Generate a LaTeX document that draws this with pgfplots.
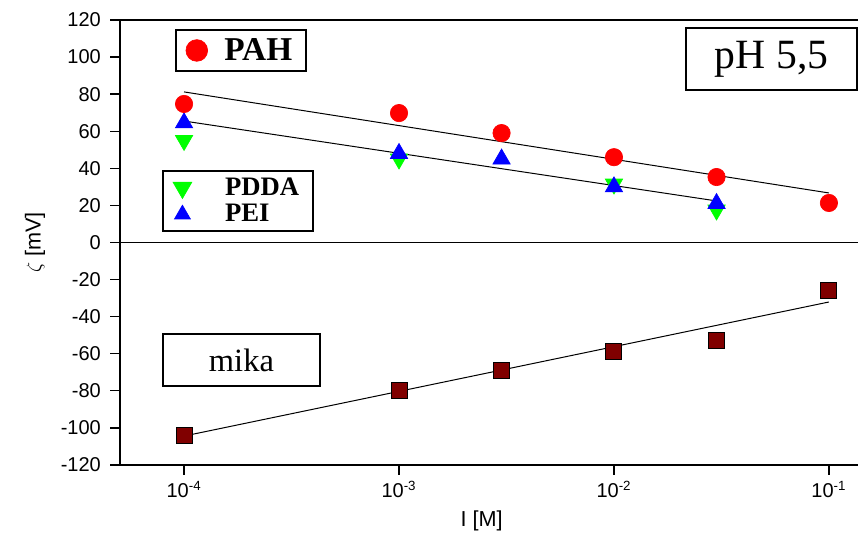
\documentclass[border=0pt]{standalone}
\usepackage{pgfplots}
\pgfplotsset{compat=1.18}
\usepackage{fontspec}
\setmainfont{Liberation Sans}
\newfontfamily\serif{Liberation Serif}
\definecolor{pahred}{RGB}{255,0,0}
\definecolor{pddagreen}{RGB}{0,255,0}
\definecolor{peiblue}{RGB}{0,0,255}
\definecolor{mikared}{RGB}{128,0,0}
\begin{document}
\begin{tikzpicture}
\begin{axis}[
  name=ax,
  scale only axis, width=442.8pt, height=267pt,
  xmode=log, xmin=5.035e-5, xmax=0.1365,
  ymin=-120, ymax=120,
  axis x line*=box, axis y line*=left,
  x axis line style={-}, y axis line style={-},
  axis line style={line width=0.8pt},
  xtick={1e-4,1e-3,1e-2,1e-1},
  xticklabels={10\textsuperscript{-4},10\textsuperscript{-3},10\textsuperscript{-2},10\textsuperscript{-1}},
  xminorticks=false,
  ytick={-120,-100,...,120},
  yticklabels={-120,-100,-80,-60,-40,-20,0,20,40,60,80,100,120},
  xtick pos=bottom, ytick pos=left,
  tick align=outside, major tick length=6pt,
  tick style={line width=0.8pt, black},
  tick label style={font=\fontsize{12}{14}\selectfont},
  yticklabel style={xshift=-2pt},
  extra y ticks={0}, extra y tick labels={},
  extra y tick style={grid=major, major grid style={black, line width=0.8pt}},
  xlabel={I [M]}, ylabel={$\zeta$ [mV]},
  label style={font=\fontsize{13}{15}\selectfont},
  xlabel style={at={(rel axis cs:0.49,-0.126)}, anchor=center},
  ylabel style={at={(rel axis cs:-0.115,0.5)}, anchor=center},
  clip=false,
  legend style={at={(rel axis cs:0.0745,0.98)}, anchor=north west, draw=black, line width=1.2pt,
    font=\serif\bfseries\fontsize{20}{23}\selectfont, inner xsep=6pt, inner ysep=3pt,
    /tikz/every odd column/.append style={column sep=8pt}},
  legend image post style={line width=0.4pt},
]
% fit lines
\addplot[black, line width=0.6pt, forget plot] coordinates {(1e-4,81.2) (0.1,26.7)};
\addplot[black, line width=0.6pt, forget plot] coordinates {(1e-4,65.5) (0.03,22.4)};
\addplot[black, line width=0.6pt, forget plot] coordinates {(1e-4,-104.4) (0.1,-32.1)};
% PDDA
\addplot[only marks, mark=triangle*, mark size=6pt, color=pddagreen, mark options={rotate=180}, forget plot]
  coordinates {(1e-4,55) (1e-3,45) (1e-2,31.5) (0.03,17.5)};
% PEI
\addplot[only marks, mark=triangle*, mark size=6pt, color=peiblue, forget plot]
  coordinates {(1e-4,64.5) (1e-3,48) (0.003,45) (1e-2,30) (0.03,21)};
% mika
\addplot[only marks, mark=square*, mark size=4.8pt, draw=black, fill=mikared, mark options={line width=0.6pt}, forget plot]
  coordinates {(1e-4,-104) (1e-3,-79.6) (0.003,-68.8) (1e-2,-59) (0.03,-52.6) (0.1,-26)};
% PAH
\addplot[only marks, mark=*, mark size=5.2pt, color=pahred, forget plot]
  coordinates {(1e-4,74.7) (1e-3,69.8) (0.003,59) (1e-2,46) (0.03,35.3) (0.1,21.3)};
\addlegendimage{only marks, mark=*, mark size=6.5pt, color=pahred}
\addlegendentry{PAH}
\node[draw, line width=1.2pt, minimum width=102.6pt, minimum height=37.2pt,
  font=\serif\fontsize{25}{29}\selectfont] at (rel axis cs:0.883,0.912) {pH 5,5};
\node[draw, line width=1pt, minimum width=94.2pt, minimum height=31.2pt,
  font=\serif\fontsize{19.5}{23}\selectfont] at (rel axis cs:0.1646,0.236) {mika};
\coordinate (BL) at (rel axis cs:-0.1626,-0.1663);
\coordinate (TR) at (rel axis cs:1,1.0449);
\end{axis}
\begin{axis}[
  scale only axis, width=442.8pt, height=267pt,
  xmode=log, xmin=5.035e-5, xmax=0.1365,
  ymin=-120, ymax=120, hide axis,
  legend style={at={(rel axis cs:0.057,0.663)}, anchor=north west, draw=black, line width=1.2pt,
    font=\serif\bfseries\fontsize{16}{18}\selectfont, inner xsep=6pt, inner ysep=2pt,
    row sep=0pt,
    /tikz/every odd column/.append style={column sep=18pt}},
  legend cell align=left,
  legend image post style={line width=0.4pt},
]
\addlegendimage{only marks, mark=triangle*, mark size=6.5pt, color=pddagreen, mark options={rotate=180}}
\addlegendentry{PDDA}
\addlegendimage{only marks, mark=triangle*, mark size=5.5pt, color=peiblue}
\addlegendentry{PEI}
\end{axis}
\pgfresetboundingbox
\path (BL) rectangle (TR);
\end{tikzpicture}
\end{document}
